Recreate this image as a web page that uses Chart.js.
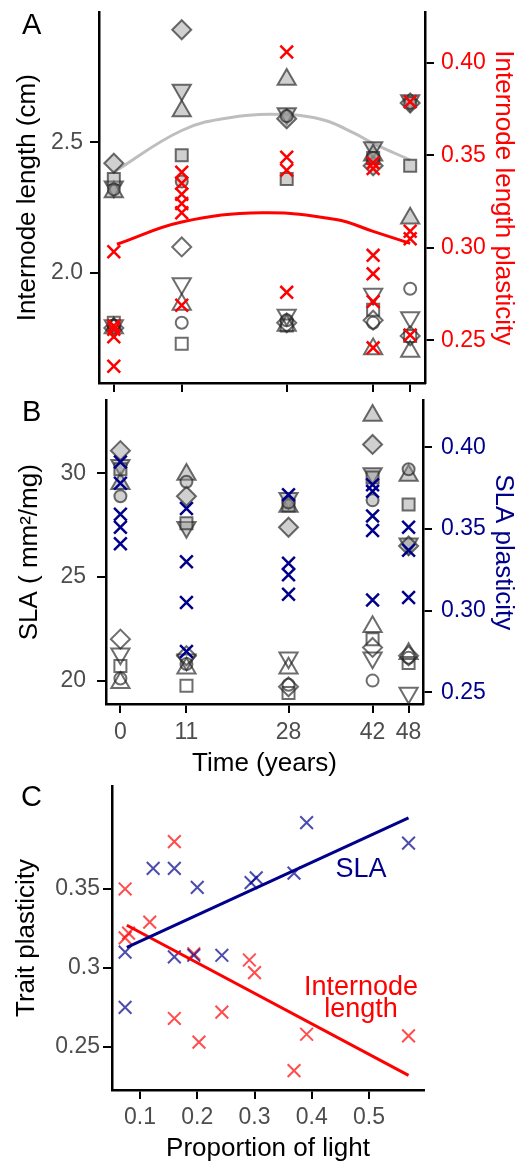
<!DOCTYPE html>
<html>
<head>
<meta charset="utf-8">
<script src="https://cdn.jsdelivr.net/npm/chart.js@4.4.1/dist/chart.umd.min.js"></script>
<style>
  body { margin: 0; width: 528px; height: 1164px; position: relative; background: #fff; overflow: hidden; font-family: 'Liberation Sans', Arial, sans-serif; }
  canvas { position: absolute; left: 0; }
  .tag { position: absolute; font-size: 29px; line-height: 29px; color: #000; }
  .note { position: absolute; font-size: 27px; line-height: 22px; text-align: center; width: 200px; }
</style>
</head>
<body>
<canvas id="chartA" width="528" height="396" style="top:0"></canvas>
<canvas id="chartB" width="528" height="402" style="top:388px"></canvas>
<canvas id="chartC" width="528" height="389" style="top:775px"></canvas>
<div class="tag" style="left:22px; top:10px">A</div>
<div class="tag" style="left:22px; top:397px">B</div>
<div class="tag" style="left:21px; top:782px">C</div>
<div class="note" style="left:261px; top:857px; color:#00008B">SLA</div>
<div class="note" style="left:261px; top:975px; color:#FF0000">Internode<br>length</div>
<script>
const years = [0, 11, 28, 42, 48];

// A: internode length (cm), filled shapes
const lenCircleF   = [2.32, 2.35, 2.60, 2.44, 2.65];
const lenSquareF   = [2.36, 2.45, 2.36, 2.44, 2.41];
const lenDiamondF  = [2.42, 2.93, 2.59, 2.41, 2.65];
const lenTriUpF    = [2.31, 2.62, 2.74, 2.45, 2.21];
const lenTriDownF  = [2.33, 2.70, 2.61, 2.48, 2.66];
// A: internode length (cm), open shapes
const lenCircleO   = [1.80, 1.81, 1.82, 1.81, 1.94];
const lenSquareO   = [1.81, 1.73, 1.80, 1.86, 1.76];
const lenDiamondO  = [1.79, 2.10, 1.81, 1.82, 1.76];
const lenTriUpO    = [1.79, 1.88, 1.80, 1.71, 1.70];
const lenTriDownO  = [1.80, 1.96, 1.84, 1.92, 1.83];
// A: internode length plasticity, one list per year
const lenPlast = [
  [0.298, 0.258, 0.256, 0.252, 0.236],
  [0.341, 0.335, 0.329, 0.324, 0.319, 0.269],
  [0.406, 0.349, 0.342, 0.276],
  [0.346, 0.343, 0.296, 0.286, 0.271, 0.246],
  [0.379, 0.309, 0.305, 0.253]
];
// A: fitted curves
const lenTrendYears = [0, 11, 19, 28, 34, 39, 42, 48];
const lenTrend      = [2.386, 2.545, 2.595, 2.606, 2.585, 2.534, 2.496, 2.432];
const lenPlastTrendYears = [0.5, 11, 24, 36, 42, 48];
const lenPlastTrend      = [0.302, 0.314, 0.319, 0.3154, 0.309, 0.3025];

// B: SLA (mm2/mg), filled shapes
const slaCircleF   = [28.9, 29.6, 28.6, 28.7, 30.2];
const slaSquareF   = [30.2, 27.6, 28.45, 29.8, 28.5];
const slaDiamondF  = [31.1, 28.9, 27.4, 31.4, 26.5];
const slaTriUpF    = [29.5, 29.95, 28.4, 32.8, 29.9];
const slaTriDownF  = [30.4, 27.4, 28.8, 30.0, 26.6];
// B: SLA, open shapes
const slaCircleO   = [20.1, 20.8, 19.8, 20.0, 21.1];
const slaSquareO   = [20.7, 19.75, 19.4, 22.0, 20.85];
const slaDiamondO  = [22.0, 21.2, 19.7, 21.6, 21.2];
const slaTriUpO    = [19.9, 20.6, 20.6, 22.6, 21.3];
const slaTriDownO  = [21.3, 21.0, 21.1, 21.1, 19.4];
// B: SLA plasticity, one list per year
const slaPlast = [
  [0.391, 0.378, 0.359, 0.351, 0.341],
  [0.3625, 0.330, 0.305, 0.275],
  [0.371, 0.329, 0.322, 0.310],
  [0.377, 0.373, 0.358, 0.349, 0.3065],
  [0.351, 0.337, 0.308]
];

// C: plasticity against proportion of light
const lightSLA = [0.074, 0.074, 0.123, 0.160, 0.160, 0.194, 0.200, 0.243, 0.294, 0.303, 0.369, 0.391, 0.569];
const plastSLA = [0.310, 0.275, 0.363, 0.363, 0.307, 0.308, 0.351, 0.308, 0.354, 0.357, 0.360, 0.392, 0.379];
const lightLen = [0.074, 0.074, 0.080, 0.117, 0.160, 0.160, 0.194, 0.203, 0.243, 0.291, 0.300, 0.369, 0.391, 0.569];
const plastLen = [0.350, 0.319, 0.322, 0.329, 0.380, 0.268, 0.309, 0.253, 0.272, 0.305, 0.297, 0.235, 0.258, 0.257];
const fitLight = [0.077, 0.569];
const fitSLA   = [0.313, 0.395];
const fitLen   = [0.327, 0.232];

// tick labels
const lenTicks = [2.0, 2.5];
const lenPlastTicks = [0.25, 0.30, 0.35, 0.40];
const slaTicks = [20, 25, 30];
const slaPlastTicks = [0.25, 0.30, 0.35, 0.40];
const cYTicks = [0.25, 0.3, 0.35];
const cXTicks = [0.1, 0.2, 0.3, 0.4, 0.5];

const FONT = "'Liberation Sans', Arial, sans-serif";
const RED = '#FF0000';
const NAVY = '#00008B';
const GREY_TXT = '#4D4D4D';
const FILL = 'rgba(150,150,150,0.45)';
const EDGE = 'rgba(40,40,40,0.68)';
Chart.defaults.font.family = FONT;

const shapes = [
  { style: 'circle', r: 6, rot: 0 },
  { style: 'rect', r: 8.5, rot: 0 },
  { style: 'rectRot', r: 9.5, rot: 0 },
  { style: 'triangle', r: 10.5, rot: 0 },
  { style: 'triangle', r: 10.5, rot: 180 }
];

const pts = (xs, ys) => xs.map((x, i) => ({ x: x, y: ys[i] }));
const fixTicks = list => s => { s.ticks = list.map(v => ({ value: v })); };
const setW = w => s => { s.width = w; s.paddingTop = 0; s.paddingBottom = 0; };
const setH = h => s => { s.height = h; s.paddingLeft = 0; s.paddingRight = 0; };

function shapeSet(vals, k, filled) {
  const s = shapes[k];
  return {
    data: pts(years, vals), yAxisID: 'y', showLine: false,
    pointStyle: s.style, pointRotation: s.rot, pointRadius: s.r, pointBorderWidth: 2,
    pointBackgroundColor: filled ? FILL : 'rgba(0,0,0,0)', pointBorderColor: EDGE
  };
}

function crossSet(lists, color) {
  const data = lists.flatMap((vals, i) => vals.map(v => ({ x: years[i], y: v })));
  return {
    data: data, yAxisID: 'y2', showLine: false, pointStyle: 'crossRot', pointRadius: 9,
    pointBorderWidth: 2.5, pointBorderColor: color, pointBackgroundColor: color
  };
}

function curveSet(xs, ys, color, axis) {
  return {
    data: pts(xs, ys), yAxisID: axis, showLine: true, borderColor: color, borderWidth: 3,
    pointRadius: 0, tension: 0.4
  };
}

function yAxis(pos, min, max, ticks, dec, color, title, titleColor, w, tickPad, titlePad) {
  return {
    type: 'linear', position: pos, min: min, max: max,
    afterBuildTicks: fixTicks(ticks),
    afterFit: setW(w),
    ticks: { color: color, padding: tickPad, font: { size: 23 }, callback: v => dec == null ? String(v) : v.toFixed(dec) },
    grid: { drawOnChartArea: false, drawTicks: true, tickLength: 9, color: '#000', lineWidth: 2 },
    border: { display: true, color: '#000', width: 2.5 },
    title: { display: true, text: title, color: titleColor, font: { size: 26, lineHeight: 1 }, padding: { top: titlePad, bottom: titlePad } }
  };
}

function xAxis(min, max, ticks, showLabels, h, labelPad, title, titlePad) {
  return {
    type: 'linear', position: 'bottom', min: min, max: max,
    afterBuildTicks: fixTicks(ticks),
    afterFit: setH(h),
    ticks: { display: showLabels, color: GREY_TXT, padding: labelPad, font: { size: 23, lineHeight: 1 }, callback: v => String(v) },
    grid: { drawOnChartArea: false, drawTicks: true, tickLength: 9, color: '#000', lineWidth: 2 },
    border: { display: true, color: '#000', width: 2.5 },
    title: { display: !!title, text: title || '', color: '#000', font: { size: 26, lineHeight: 1 }, padding: { top: 0, bottom: titlePad } }
  };
}

const base = {
  responsive: false, animation: false, devicePixelRatio: 1,
  plugins: { legend: { display: false }, tooltip: { enabled: false } }
};

// Panel A
new Chart(document.getElementById('chartA'), {
  type: 'scatter',
  data: {
    datasets: [
      crossSet(lenPlast, RED),
      curveSet(lenPlastTrendYears, lenPlastTrend, RED, 'y2'),
      shapeSet(lenCircleF, 0, true), shapeSet(lenSquareF, 1, true), shapeSet(lenDiamondF, 2, true),
      shapeSet(lenTriUpF, 3, true), shapeSet(lenTriDownF, 4, true),
      shapeSet(lenCircleO, 0, false), shapeSet(lenSquareO, 1, false), shapeSet(lenDiamondO, 2, false),
      shapeSet(lenTriUpO, 3, false), shapeSet(lenTriDownO, 4, false),
      curveSet(lenTrendYears, lenTrend, '#BEBEBE', 'y')
    ]
  },
  options: Object.assign({}, base, {
    layout: { padding: { top: 9, left: 0, right: 0, bottom: 0 } },
    scales: {
      x: xAxis(-2.4, 50.4, years, false, 13, 0, null, 0),
      y: yAxis('left', 1.58, 2.996, lenTicks, 1, GREY_TXT, 'Internode length (cm)', '#000', 99, 7, 15),
      y2: yAxis('right', 0.227, 0.4273, lenPlastTicks, 2, RED, 'Internode length plasticity', RED, 103, 7, 12)
    }
  })
});

// Panel B
new Chart(document.getElementById('chartB'), {
  type: 'scatter',
  data: {
    datasets: [
      crossSet(slaPlast, NAVY),
      shapeSet(slaCircleF, 0, true), shapeSet(slaSquareF, 1, true), shapeSet(slaDiamondF, 2, true),
      shapeSet(slaTriUpF, 3, true), shapeSet(slaTriDownF, 4, true),
      shapeSet(slaCircleO, 0, false), shapeSet(slaSquareO, 1, false), shapeSet(slaDiamondO, 2, false),
      shapeSet(slaTriUpO, 3, false), shapeSet(slaTriDownO, 4, false)
    ]
  },
  options: Object.assign({}, base, {
    layout: { padding: { top: 4, left: 0, right: 0, bottom: 0 } },
    scales: {
      x: xAxis(-2.4, 50.4, years, true, 86, 8, 'Time (years)', 13),
      y: yAxis('left', 18.87, 33.52, slaTicks, null, GREY_TXT, 'SLA ( mm\u00B2/mg)', '#000', 106, 11, 17),
      y2: yAxis('right', 0.2429, 0.4286, slaPlastTicks, 2, NAVY, 'SLA plasticity', NAVY, 105, 9, 12)
    }
  })
});

// Panel C
new Chart(document.getElementById('chartC'), {
  type: 'scatter',
  data: {
    datasets: [
      {
        data: pts(fitLight, fitSLA), showLine: true, borderColor: NAVY, borderWidth: 3, pointRadius: 0
      },
      {
        data: pts(fitLight, fitLen), showLine: true, borderColor: RED, borderWidth: 3, pointRadius: 0
      },
      {
        data: pts(lightSLA, plastSLA), showLine: false, pointStyle: 'crossRot', pointRadius: 9,
        pointBorderWidth: 2, pointBorderColor: 'rgba(0,0,139,0.7)'
      },
      {
        data: pts(lightLen, plastLen), showLine: false, pointStyle: 'crossRot', pointRadius: 9,
        pointBorderWidth: 2, pointBorderColor: 'rgba(255,0,0,0.7)'
      }
    ]
  },
  options: Object.assign({}, base, {
    layout: { padding: { top: 5, left: 0, right: 104, bottom: 0 } },
    scales: {
      x: xAxis(0.0511, 0.596, cXTicks, true, 74, 7, 'Proportion of light', 2),
      y: yAxis('left', 0.2227, 0.4152, cYTicks, null, GREY_TXT, 'Trait plasticity', '#000', 112, 3, 14)
    }
  })
});
</script>
</body>
</html>
